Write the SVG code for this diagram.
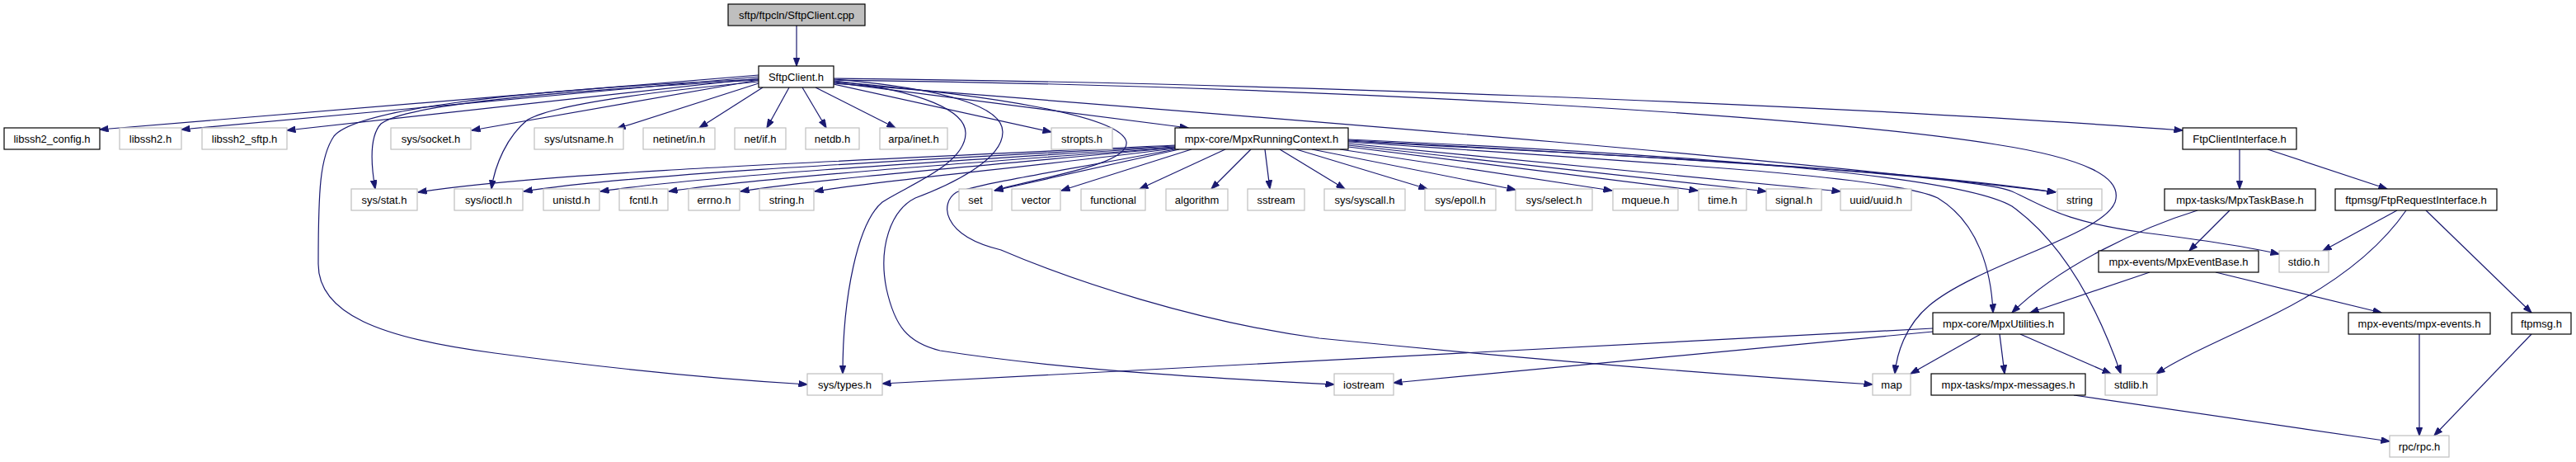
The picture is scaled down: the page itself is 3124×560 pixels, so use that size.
<svg xmlns="http://www.w3.org/2000/svg" width="3124" height="560" viewBox="0 0 3124 560">
<style>
.node rect{fill:#fff;stroke:#bfbfbf;stroke-width:1.2}
.node.doc rect{stroke:#000}
.node.top rect{fill:#bfbfbf;stroke:#000}
.node text{font-family:"Liberation Sans",Arial,sans-serif;font-size:13px;fill:#000;text-anchor:middle}
#edges path{fill:none;stroke:#191970;stroke-width:1.2;marker-end:url(#arr)}
</style>
<defs>
<marker id="arr" markerWidth="11" markerHeight="8" refX="10.5" refY="4" orient="auto" markerUnits="userSpaceOnUse">
<path d="M0,0 L11,4 L0,8 z" fill="#191970" stroke="#191970" stroke-width="0.8"/>
</marker>
</defs>
<rect x="0" y="0" width="3124" height="560" fill="#fff"/>
<g id="edges">
<path d="M966,31 L966,80"/>
<path d="M920,91 L121,157"/>
<path d="M920,93 L220,157"/>
<path d="M920,95 L348,158"/>
<path d="M920,97 L572,158"/>
<path d="M920,101 L748,156"/>
<path d="M925,106 L848,155"/>
<path d="M957,106 L930,155"/>
<path d="M973,106 L1002,155"/>
<path d="M989,106 L1086,155"/>
<path d="M1011,102 L1275,160"/>
<path d="M1011,100 L1441,155"/>
<path d="M1011,95 C1500,100 2200,125 2647,158"/>
<path d="M1011,101 C1500,140 2100,185 2493,233"/>
<path d="M1011,97 C1600,104 2200,140 2420,175 C2530,192 2575,215 2565,245 C2550,285 2400,320 2340,370 C2310,395 2300,430 2298,453"/>
<path d="M920,97 C650,112 490,128 462,150 C448,165 450,200 455,229"/>
<path d="M920,99 C780,112 670,128 640,145 C615,165 600,200 596,229"/>
<path d="M920,96 C600,110 430,135 405,165 C388,190 386,230 386,320 C386,380 460,410 600,428 C750,448 880,460 979,466"/>
<path d="M1011,98 C1120,110 1172,135 1171,162 C1170,200 1100,225 1070,245 C1040,270 1022,360 1022,453"/>
<path d="M1011,96 C1150,108 1216,130 1216,160 C1216,195 1150,225 1110,240 C1080,255 1065,300 1075,350 C1085,395 1100,415 1140,425 C1300,450 1500,460 1618,466"/>
<path d="M1011,99 C1200,115 1360,140 1366,172 C1370,200 1260,215 1206,231"/>
<path d="M1425,176 C1000,196 650,210 507,233"/>
<path d="M1425,177 C1050,197 760,212 635,232"/>
<path d="M1425,178 C1100,198 850,214 728,232"/>
<path d="M1425,179 C1150,199 920,216 811,232"/>
<path d="M1425,179 C1200,200 990,217 898,232"/>
<path d="M1425,180 C1250,202 1060,220 988,232"/>
<path d="M1430,181 L1206,231"/>
<path d="M1445,181 L1287,231"/>
<path d="M1486,181 L1382,229"/>
<path d="M1517,181 L1469,229"/>
<path d="M1534,181 L1540,229"/>
<path d="M1552,181 L1631,229"/>
<path d="M1572,181 L1731,229"/>
<path d="M1591,181 L1838,230"/>
<path d="M1625,181 L1955,231"/>
<path d="M1635,178 L2059,231"/>
<path d="M1635,176 L2142,232"/>
<path d="M1635,174 L2232,232"/>
<path d="M1635,171 C2000,190 2300,205 2493,233"/>
<path d="M1635,170 C2100,195 2400,215 2440,232 C2480,250 2500,268 2600,282 C2680,292 2730,300 2764,308"/>
<path d="M1635,169 C2100,190 2380,215 2440,250 C2510,300 2550,390 2572,453"/>
<path d="M1635,172 C2050,200 2300,215 2350,240 C2400,270 2415,330 2417,379"/>
<path d="M1425,181 C1300,205 1200,220 1160,233 C1140,245 1140,285 1214,303 C1300,340 1450,390 1600,410 C1900,440 2100,455 2271,466"/>
<path d="M2716,181 L2716,229"/>
<path d="M2750,181 L2895,229"/>
<path d="M2704,255 L2655,304"/>
<path d="M2665,255 C2600,275 2500,320 2440,379"/>
<path d="M2607,330 L2462,379"/>
<path d="M2687,330 L2888,379"/>
<path d="M2907,255 L2817,304"/>
<path d="M2918,255 C2880,310 2820,350 2760,380 C2700,410 2650,430 2615,453"/>
<path d="M2942,255 L3070,379"/>
<path d="M2402,405 L2317,453"/>
<path d="M2425,405 L2431,453"/>
<path d="M2450,405 L2560,453"/>
<path d="M2344,398 L1070,465"/>
<path d="M2344,402 L1690,464"/>
<path d="M2515,479 L2898,535"/>
<path d="M2934,405 L2934,528"/>
<path d="M3070,405 L2952,528"/>
</g>
<g id="n_cpp" class="node top"><rect x="883" y="5" width="166" height="26"/><text x="966" y="22.5">sftp/ftpcln/SftpClient.cpp</text></g>
<g id="n_sftpclient_h" class="node doc"><rect x="920" y="80" width="91" height="26"/><text x="965.5" y="97.5">SftpClient.h</text></g>
<g id="n_libssh2_config" class="node doc"><rect x="5" y="155" width="116" height="26"/><text x="63" y="172.5">libssh2_config.h</text></g>
<g id="n_libssh2" class="node"><rect x="145" y="155" width="75" height="26"/><text x="182.5" y="172.5">libssh2.h</text></g>
<g id="n_libssh2_sftp" class="node"><rect x="245" y="155" width="103" height="26"/><text x="296.5" y="172.5">libssh2_sftp.h</text></g>
<g id="n_sys_socket" class="node"><rect x="474" y="155" width="97" height="26"/><text x="522.5" y="172.5">sys/socket.h</text></g>
<g id="n_sys_utsname" class="node"><rect x="648" y="155" width="108" height="26"/><text x="702" y="172.5">sys/utsname.h</text></g>
<g id="n_netinet_in" class="node"><rect x="780" y="155" width="87" height="26"/><text x="823.5" y="172.5">netinet/in.h</text></g>
<g id="n_net_if" class="node"><rect x="891" y="155" width="62" height="26"/><text x="922" y="172.5">net/if.h</text></g>
<g id="n_netdb" class="node"><rect x="977" y="155" width="65" height="26"/><text x="1009.5" y="172.5">netdb.h</text></g>
<g id="n_arpa_inet" class="node"><rect x="1067" y="155" width="82" height="26"/><text x="1108" y="172.5">arpa/inet.h</text></g>
<g id="n_stropts" class="node"><rect x="1275" y="155" width="74" height="26"/><text x="1312" y="172.5">stropts.h</text></g>
<g id="n_mpxrunningcontext" class="node doc"><rect x="1425" y="155" width="210" height="26"/><text x="1530" y="172.5">mpx-core/MpxRunningContext.h</text></g>
<g id="n_ftpclientinterface" class="node doc"><rect x="2647" y="155" width="138" height="26"/><text x="2716" y="172.5">FtpClientInterface.h</text></g>
<g id="n_sys_stat" class="node"><rect x="426" y="229" width="80" height="26"/><text x="466" y="246.5">sys/stat.h</text></g>
<g id="n_sys_ioctl" class="node"><rect x="551" y="229" width="83" height="26"/><text x="592.5" y="246.5">sys/ioctl.h</text></g>
<g id="n_unistd" class="node"><rect x="659" y="229" width="68" height="26"/><text x="693" y="246.5">unistd.h</text></g>
<g id="n_fcntl" class="node"><rect x="751" y="229" width="59" height="26"/><text x="780.5" y="246.5">fcntl.h</text></g>
<g id="n_errno" class="node"><rect x="835" y="229" width="62" height="26"/><text x="866" y="246.5">errno.h</text></g>
<g id="n_string_h" class="node"><rect x="921" y="229" width="66" height="26"/><text x="954" y="246.5">string.h</text></g>
<g id="n_set" class="node"><rect x="1163" y="229" width="40" height="26"/><text x="1183" y="246.5">set</text></g>
<g id="n_vector" class="node"><rect x="1227" y="229" width="59" height="26"/><text x="1256.5" y="246.5">vector</text></g>
<g id="n_functional" class="node"><rect x="1311" y="229" width="78" height="26"/><text x="1350" y="246.5">functional</text></g>
<g id="n_algorithm" class="node"><rect x="1414" y="229" width="75" height="26"/><text x="1451.5" y="246.5">algorithm</text></g>
<g id="n_sstream" class="node"><rect x="1513" y="229" width="69" height="26"/><text x="1547.5" y="246.5">sstream</text></g>
<g id="n_sys_syscall" class="node"><rect x="1606" y="229" width="98" height="26"/><text x="1655" y="246.5">sys/syscall.h</text></g>
<g id="n_sys_epoll" class="node"><rect x="1728" y="229" width="86" height="26"/><text x="1771" y="246.5">sys/epoll.h</text></g>
<g id="n_sys_select" class="node"><rect x="1838" y="229" width="93" height="26"/><text x="1884.5" y="246.5">sys/select.h</text></g>
<g id="n_mqueue" class="node"><rect x="1956" y="229" width="79" height="26"/><text x="1995.5" y="246.5">mqueue.h</text></g>
<g id="n_time" class="node"><rect x="2060" y="229" width="58" height="26"/><text x="2089" y="246.5">time.h</text></g>
<g id="n_signal" class="node"><rect x="2142" y="229" width="67" height="26"/><text x="2175.5" y="246.5">signal.h</text></g>
<g id="n_uuid" class="node"><rect x="2232" y="229" width="86" height="26"/><text x="2275" y="246.5">uuid/uuid.h</text></g>
<g id="n_string" class="node"><rect x="2495" y="229" width="54" height="26"/><text x="2522" y="246.5">string</text></g>
<g id="n_mpxtaskbase" class="node doc"><rect x="2625" y="229" width="183" height="26"/><text x="2716.5" y="246.5">mpx-tasks/MpxTaskBase.h</text></g>
<g id="n_ftprequestinterface" class="node doc"><rect x="2832" y="229" width="196" height="26"/><text x="2930" y="246.5">ftpmsg/FtpRequestInterface.h</text></g>
<g id="n_mpxeventbase" class="node doc"><rect x="2545" y="304" width="194" height="26"/><text x="2642" y="321.5">mpx-events/MpxEventBase.h</text></g>
<g id="n_stdio" class="node"><rect x="2764" y="304" width="60" height="26"/><text x="2794" y="321.5">stdio.h</text></g>
<g id="n_mpxutilities" class="node doc"><rect x="2344" y="379" width="159" height="26"/><text x="2423.5" y="396.5">mpx-core/MpxUtilities.h</text></g>
<g id="n_mpx_events" class="node doc"><rect x="2848" y="379" width="172" height="26"/><text x="2934" y="396.5">mpx-events/mpx-events.h</text></g>
<g id="n_ftpmsg" class="node doc"><rect x="3046" y="379" width="72" height="26"/><text x="3082" y="396.5">ftpmsg.h</text></g>
<g id="n_sys_types" class="node"><rect x="979" y="453" width="91" height="26"/><text x="1024.5" y="470.5">sys/types.h</text></g>
<g id="n_iostream" class="node"><rect x="1618" y="453" width="72" height="26"/><text x="1654" y="470.5">iostream</text></g>
<g id="n_map" class="node"><rect x="2271" y="453" width="46" height="26"/><text x="2294" y="470.5">map</text></g>
<g id="n_mpx_messages" class="node doc"><rect x="2342" y="453" width="187" height="26"/><text x="2435.5" y="470.5">mpx-tasks/mpx-messages.h</text></g>
<g id="n_stdlib" class="node"><rect x="2553" y="453" width="63" height="26"/><text x="2584.5" y="470.5">stdlib.h</text></g>
<g id="n_rpc" class="node"><rect x="2898" y="528" width="72" height="26"/><text x="2934" y="545.5">rpc/rpc.h</text></g>
</svg>
